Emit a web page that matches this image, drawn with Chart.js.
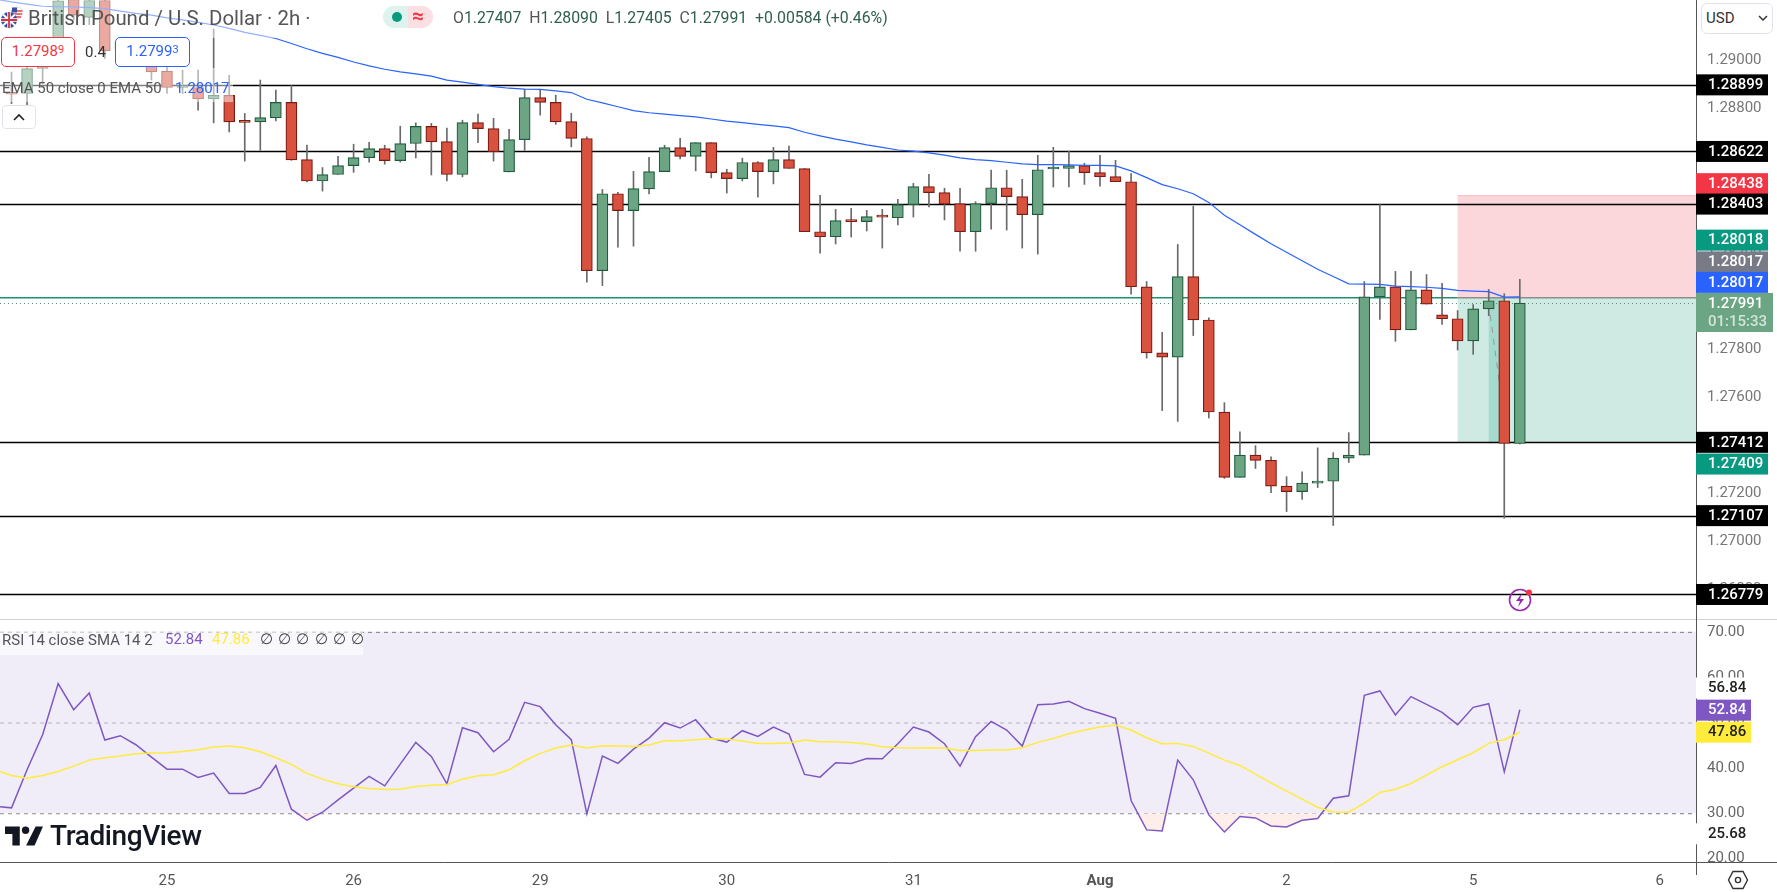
<!DOCTYPE html>
<html>
<head>
<meta charset="utf-8">
<title>GBP/USD</title>
<script src="https://cdn.jsdelivr.net/npm/chart.js@4/dist/chart.umd.min.js"></script>
<style>
  body { margin: 0; background: #fff; overflow: hidden; font-family: Roboto, sans-serif; }
  #wrap { position: relative; width: 1777px; height: 892px; }
  canvas { position: absolute; left: 0; top: 0; }
  .abs { position: absolute; white-space: nowrap; }
  .shade { position: absolute; background: rgba(255,255,255,.5); }
  .txt { font-size: 15px; line-height: 18px; color: #555; }
  .box { background: #fff; border-radius: 5px; box-sizing: border-box; font-size: 15px; text-align: center; line-height: 27px; }
  sup { font-size: 11px; vertical-align: 3px; line-height: 0; }
</style>
</head>
<body>
<div id="wrap">
  <canvas id="chart" width="1777" height="892"></canvas>

  <div class="shade" style="left:0;top:0;width:313px;height:38px"></div>
  <div class="shade" style="left:0;top:38px;width:195px;height:30px"></div>
  <div class="shade" style="left:0;top:68px;width:233px;height:34px"></div>

  <svg class="abs" style="left:0;top:5px" width="26" height="26" viewBox="0 0 26 26">
    <circle cx="17" cy="8" r="6" fill="#fff" stroke="#ddd"/>
    <path d="M11.5 6h11M12 9h10M13 12h8" stroke="#e0404a" stroke-width="1.4"/>
    <path d="M12 2.5h5v5h-5z" fill="#3a4fa0"/>
    <circle cx="9" cy="15" r="8" fill="#3a4fa0"/>
    <path d="M3 9.5l12 11M15 9.5l-12 11" stroke="#fff" stroke-width="2"/>
    <path d="M1 15h16M9 7v16" stroke="#fff" stroke-width="3.4"/>
    <path d="M1 15h16M9 7v16" stroke="#d8343f" stroke-width="1.8"/>
  </svg>
  <div class="abs" style="left:28px;top:6px;font-size:20.4px;line-height:24px;color:#555">British Pound / U.S. Dollar · 2h ·</div>

  <div class="abs" style="left:383px;top:6px;width:25px;height:22px;background:#dff3ee;border-radius:11px 0 0 11px"></div>
  <div class="abs" style="left:408px;top:6px;width:25px;height:22px;background:#fcdfe2;border-radius:0 11px 11px 0"></div>
  <div class="abs" style="left:392px;top:12px;width:10px;height:10px;background:#089981;border-radius:50%"></div>
  <div class="abs" style="left:412px;top:5px;font-size:21px;font-weight:700;line-height:22px;color:#f23645">≈</div>
  <div class="abs txt" style="left:453px;top:9px;font-size:15.8px;color:#2f5f4d"><span style="color:#555">O</span>1.27407 &nbsp;<span style="color:#555">H</span>1.28090 &nbsp;<span style="color:#555">L</span>1.27405 &nbsp;<span style="color:#555">C</span>1.27991 &nbsp;+0.00584 (+0.46%)</div>

  <div class="abs box" style="left:1px;top:37px;width:74px;height:30px;border:1.5px solid #f23645;color:#f23645">1.2798<sup>9</sup></div>
  <div class="abs txt" style="left:85px;top:43px;color:#333">0.4</div>
  <div class="abs box" style="left:115px;top:37px;width:75px;height:30px;border:1.5px solid #2962ff;color:#2962ff">1.2799<sup>3</sup></div>
  <div class="abs txt" style="left:2px;top:79px">EMA 50 close 0 EMA 50</div>
  <div class="abs txt" style="left:175px;top:79px;color:#2962ff">1.28017</div>
  <div class="abs" style="left:2px;top:105px;width:34px;height:24px;box-sizing:border-box;background:#fff;border:1px solid #e0e3eb;border-radius:4px"></div>
  <svg class="abs" style="left:12px;top:113px" width="14" height="9"><path d="M2 7l5-5 5 5" fill="none" stroke="#222" stroke-width="1.6"/></svg>

  <div class="abs" style="left:1701px;top:3px;width:72px;height:31px;box-sizing:border-box;background:#fff;border:1px solid #e0e3eb;border-radius:6px;font-size:15px;line-height:29px;padding-left:4px;color:#333">USD</div>
  <svg class="abs" style="left:1758px;top:15px" width="10" height="7"><path d="M1 1l4 4 4-4" fill="none" stroke="#333" stroke-width="1.5"/></svg>

  <div class="shade" style="left:0;top:632px;width:363px;height:23px;background:rgba(255,255,255,.6)"></div>
  <div class="abs txt" style="left:2px;top:631px">RSI 14 close SMA 14 2</div>
  <div class="abs txt" style="left:165px;top:630px;color:#7e57c2">52.84</div>
  <div class="abs txt" style="left:212px;top:630px;color:#ffeb3b">47.86</div>
  <div class="abs txt" style="left:260px;top:630px;color:#444;word-spacing:1.5px">∅ ∅ ∅ ∅ ∅ ∅</div>

  <svg class="abs" style="left:5px;top:826px" width="38" height="20" viewBox="0 0 36 18" fill="#131722">
    <path d="M0 0h14v18H7V7H0z"/><circle cx="19.5" cy="3.5" r="3.5"/><path d="M29 0h7l-8 18h-8z"/>
  </svg>
  <div class="abs" style="left:50px;top:820px;font-size:28px;line-height:32px;font-weight:500;letter-spacing:-.4px;color:#131722">TradingView</div>

  <svg class="abs" style="left:1508px;top:588px" width="26" height="24" viewBox="0 0 26 24">
    <circle cx="12" cy="12" r="10.5" fill="none" stroke="#9c27b0" stroke-width="1.6"/>
    <path d="M14 5l-6 8h4l-2 6 6-8h-4z" fill="#9c27b0"/>
    <circle cx="21" cy="4.5" r="3" fill="#f23645"/>
  </svg>

  <svg class="abs" style="left:1727px;top:869px" width="22" height="22" viewBox="0 0 22 22">
    <path d="M6 2.5h10L20.5 11 16 19.5H6L1.5 11z" fill="none" stroke="#333" stroke-width="1.4"/>
    <circle cx="11" cy="11" r="2.6" fill="none" stroke="#333" stroke-width="1.4"/>
  </svg>
</div>

<script>
const opens = [1.28866,1.28863,1.28967,1.29044,1.29255,1.29180,1.29250,1.29044,1.29071,1.28988,
  1.28956,1.28888,1.28888,1.28841,1.28855,1.28745,1.28745,1.28762,1.28826,1.28588,
  1.28499,1.28526,1.28563,1.28596,1.28634,1.28584,1.28655,1.28726,1.28663,1.28526,
  1.28742,1.28717,1.28537,1.28671,1.28846,1.28826,1.28746,1.28676,1.28126,1.28446,
  1.28376,1.28466,1.28538,1.28638,1.28601,1.28659,1.28534,1.28509,1.28576,1.28538,
  1.28588,1.28551,1.28288,1.28267,1.28334,1.28330,1.28351,1.28346,1.28401,1.28476,
  1.28451,1.28405,1.28288,1.28405,1.28471,1.28434,1.28359,1.28549,1.28551,1.28563,
  1.28534,1.28517,1.28496,1.28059,1.27784,1.27766,1.28101,1.27921,1.27538,1.27266,
  1.27359,1.27337,1.27230,1.27207,1.27242,1.27250,1.27346,1.27359,1.28017,1.28059,
  1.27880,1.28046,1.27942,1.27926,1.27834,1.27967,1.28001,1.27407]
const highs = [1.28952,1.28974,1.29071,1.29270,1.29270,1.29270,1.29270,1.29090,1.29092,1.29000,
  1.28974,1.28960,1.28960,1.29131,1.28939,1.28780,1.28919,1.28877,1.28896,1.28648,
  1.28555,1.28602,1.28652,1.28660,1.28648,1.28727,1.28741,1.28739,1.28719,1.28752,
  1.28777,1.28760,1.28714,1.28880,1.28880,1.28856,1.28781,1.28683,1.28464,1.28452,
  1.28539,1.28598,1.28648,1.28677,1.28659,1.28659,1.28548,1.28594,1.28580,1.28639,
  1.28644,1.28551,1.28439,1.28381,1.28385,1.28377,1.28381,1.28423,1.28489,1.28527,
  1.28469,1.28469,1.28413,1.28544,1.28544,1.28506,1.28606,1.28639,1.28623,1.28573,
  1.28606,1.28585,1.28530,1.28081,1.27870,1.28235,1.28394,1.27930,1.27577,1.27456,
  1.27398,1.27352,1.27269,1.27289,1.27389,1.27369,1.27452,1.28081,1.28401,1.28123,
  1.28123,1.28110,1.28073,1.27960,1.27985,1.28048,1.28030,1.28090]
const lows = [1.28821,1.28780,1.28905,1.29020,1.29169,1.29150,1.29009,1.29020,1.28980,1.28919,
  1.28863,1.28863,1.28794,1.28741,1.28703,1.28582,1.28627,1.28749,1.28585,1.28495,
  1.28457,1.28526,1.28535,1.28577,1.28569,1.28578,1.28595,1.28524,1.28499,1.28516,
  1.28658,1.28582,1.28537,1.28627,1.28773,1.28735,1.28641,1.28078,1.28064,1.28224,
  1.28228,1.28445,1.28538,1.28591,1.28541,1.28512,1.28449,1.28499,1.28432,1.28487,
  1.28551,1.28288,1.28199,1.28237,1.28266,1.28291,1.28220,1.28316,1.28349,1.28391,
  1.28337,1.28207,1.28207,1.28299,1.28295,1.28220,1.28195,1.28474,1.28474,1.28485,
  1.28478,1.28496,1.28028,1.27762,1.27544,1.27499,1.27856,1.27513,1.27262,1.27266,
  1.27303,1.27203,1.27124,1.27174,1.27224,1.27066,1.27328,1.27359,1.27923,1.27832,
  1.27880,1.27987,1.27902,1.27796,1.27778,1.27939,1.27096,1.27405]
const closes = [1.28860,1.28967,1.29044,1.29249,1.29189,1.29250,1.29041,1.29078,1.28988,1.28953,
  1.28888,1.28894,1.28841,1.28855,1.28745,1.28743,1.28763,1.28826,1.28587,1.28499,
  1.28526,1.28563,1.28596,1.28634,1.28584,1.28655,1.28726,1.28662,1.28526,1.28742,
  1.28717,1.28621,1.28671,1.28846,1.28826,1.28745,1.28676,1.28126,1.28446,1.28376,
  1.28467,1.28538,1.28638,1.28601,1.28659,1.28534,1.28509,1.28576,1.28538,1.28588,
  1.28551,1.28288,1.28267,1.28334,1.28330,1.28351,1.28349,1.28401,1.28476,1.28451,
  1.28403,1.28288,1.28405,1.28471,1.28434,1.28359,1.28546,1.28551,1.28563,1.28534,
  1.28517,1.28496,1.28059,1.27784,1.27766,1.28101,1.27921,1.27538,1.27266,1.27359,
  1.27337,1.27230,1.27207,1.27242,1.27250,1.27346,1.27359,1.28017,1.28059,1.27880,
  1.28046,1.27987,1.27926,1.27834,1.27967,1.28001,1.27407,1.27991]
const ema50 = [1.29244,1.29235,1.29226,1.29224,1.29223,1.29220,1.29216,1.29206,1.29196,1.29189,
  1.29178,1.29169,1.29159,1.29148,1.29134,1.29117,1.29105,1.29092,1.29071,1.29049,
  1.29030,1.29013,1.28994,1.28978,1.28964,1.28953,1.28945,1.28935,1.28919,1.28910,
  1.28901,1.28892,1.28885,1.28881,1.28880,1.28874,1.28867,1.28839,1.28824,1.28808,
  1.28792,1.28783,1.28777,1.28771,1.28766,1.28757,1.28748,1.28742,1.28735,1.28728,
  1.28721,1.28702,1.28687,1.28673,1.28662,1.28649,1.28639,1.28628,1.28623,1.28616,
  1.28607,1.28595,1.28588,1.28584,1.28577,1.28570,1.28567,1.28567,1.28566,1.28564,
  1.28564,1.28562,1.28541,1.28513,1.28484,1.28467,1.28446,1.28410,1.28357,1.28317,
  1.28277,1.28238,1.28203,1.28167,1.28132,1.28102,1.28071,1.28070,1.28069,1.28062,
  1.28060,1.28057,1.28052,1.28044,1.28041,1.28039,1.28016,1.28017]
const rsi = [31.18,39.58,47.31,58.58,52.84,56.52,46.13,47.09,45.10,42.38,
  39.72,39.72,37.88,38.84,34.35,34.35,35.67,40.53,30.88,28.45,
  30.22,32.95,35.52,38.10,36.04,40.83,45.62,42.52,36.48,48.86,
  47.75,43.55,46.28,54.46,53.50,49.52,46.21,29.85,42.60,40.98,
  44.14,46.57,49.96,48.78,50.63,46.57,45.69,48.20,46.94,49.01,
  47.46,38.55,37.96,41.12,40.98,42.08,42.01,45.32,49.01,47.90,
  45.32,40.39,46.87,50.26,48.34,44.81,53.94,54.09,54.68,53.06,
  52.03,50.92,32.80,26.32,26.10,41.71,37.37,29.63,25.87,29.26,
  28.97,27.20,26.98,28.45,28.82,33.31,33.83,56.00,56.96,51.66,
  55.71,54.01,52.25,49.52,53.35,54.16,39.13,52.84]
const rsiSma = [38.32,37.73,38.32,39.21,40.39,41.71,42.23,42.60,43.11,43.26,
  43.33,43.63,44.00,44.59,44.81,44.44,43.55,42.23,40.76,38.77,
  37.51,36.48,35.82,35.45,35.23,35.30,35.89,36.19,36.34,37.51,
  38.25,38.47,39.58,41.57,43.19,44.36,45.03,44.36,44.88,44.81,
  44.73,45.03,45.99,45.99,46.21,46.43,46.35,45.91,45.40,45.40,
  45.47,46.13,45.76,45.76,45.62,45.25,44.66,44.44,44.36,44.44,
  44.36,43.85,43.85,43.92,43.92,44.44,45.62,46.50,47.53,48.34,
  49.01,49.45,48.34,46.65,45.32,45.40,44.73,43.26,41.71,40.53,
  38.62,36.70,34.86,33.09,31.33,30.29,30.22,32.21,34.57,35.30,
  36.56,38.40,40.24,41.79,43.33,45.40,46.21,47.86]

// the bar just left of the visible range, only its indicator lines show
const ema50Before = 1.29255
const rsiBefore = 31.5
const rsiSmaBefore = 39.5

const dayBars = [10, 22, 34, 46, 58, 70, 82, 94, 106]
const dayLabels = ['25', '26', '29', '30', '31', 'Aug', '2', '5', '6']
const priceTicks = [1.29, 1.288, 1.286, 1.284, 1.282, 1.28, 1.278, 1.276, 1.274, 1.272, 1.27, 1.268]
const rsiTicks = [70, 60, 50, 40, 30, 20]

const levels = [1.28899, 1.28622, 1.28403, 1.27412, 1.27107, 1.26779]
const positionEntry = 1.28013
const positionStop = 1.28438
const positionTarget = 1.27409
const positionStartBar = 93
const lastPrice = 1.27991

// value, text, background, text colour, nudge up/down so that the tags do not overlap
const priceTags = [
  [1.28899, '1.28899', '#000', '#fff', 0],
  [1.28622, '1.28622', '#000', '#fff', 0],
  [1.28438, '1.28438', '#f23645', '#fff', -12],
  [1.28403, '1.28403', '#000', '#fff', 0],
  [1.28018, '1.28018', '#089981', '#fff', -56.5],
  [1.28017, '1.28017', '#787b86', '#fff', -35],
  [1.28017, '1.28017', '#2962ff', '#fff', -14.5],
  [1.27412, '1.27412', '#000', '#fff', 0],
  [1.27409, '1.27409', '#089981', '#fff', 21],
  [1.27107, '1.27107', '#000', '#fff', 0],
  [1.26779, '1.26779', '#000', '#fff', 0]
]
const rsiTags = [
  [56.84, '56.84', '#fff', '#222', -3.5],
  [52.84, '52.84', '#7e57c2', '#fff', 0.5],
  [47.86, '47.86', '#ffeb3b', '#222', 0],
  [25.68, '25.68', '#fff', '#222', 1]
]

const RED = '#d9523f'
const RED_BORDER = '#7a1c14'
const GREEN = '#6ba583'
const GREEN_BORDER = '#1f5c3e'
const AXIS_X = 1696
const TAG_FONT = '500 15px Roboto'

const isUp = i => closes[i] >= opens[i]
const hLine = (ctx, y, x0, x1, color, width, dash) => {
  ctx.save()
  ctx.strokeStyle = color
  ctx.lineWidth = width
  ctx.setLineDash(dash || [])
  ctx.beginPath()
  ctx.moveTo(x0, y)
  ctx.lineTo(x1, y)
  ctx.stroke()
  ctx.restore()
}

const backdrop = {
  id: 'backdrop',
  beforeDatasetsDraw(chart) {
    const { ctx, scales: { x, y, rsiAxis } } = chart
    const y70 = rsiAxis.getPixelForValue(70)
    const y50 = rsiAxis.getPixelForValue(50)
    const y30 = rsiAxis.getPixelForValue(30)

    // rsi band
    ctx.fillStyle = '#f0edf8'
    ctx.fillRect(0, y70, AXIS_X, y30 - y70)
    hLine(ctx, y70 + 0.5, 0, AXIS_X, '#787b86', 1, [4, 4])
    hLine(ctx, y50 + 0.5, 0, AXIS_X, '#b6b2c4', 1, [4, 4])
    hLine(ctx, y30 + 0.5, 0, AXIS_X, '#787b86', 1, [4, 4])

    // short position box
    const px = x.getPixelForValue(positionStartBar)
    const yEntry = y.getPixelForValue(positionEntry)
    const yStop = y.getPixelForValue(positionStop)
    const yTarget = y.getPixelForValue(positionTarget)
    ctx.fillStyle = '#fbd7db'
    ctx.fillRect(px, yStop, AXIS_X - px, yEntry - yStop)
    ctx.fillStyle = '#cfe9e3'
    ctx.fillRect(px, yEntry, AXIS_X - px, yTarget - yEntry)
    hLine(ctx, yStop, px, AXIS_X, '#fbb8be', 1)
    ctx.fillStyle = '#a5dacf'
    const x95 = x.getPixelForValue(95)
    ctx.fillRect(x95, yEntry, x.getPixelForValue(96) + 1 - x95, yTarget - yEntry)

    // price levels
    levels.forEach(v => hLine(ctx, Math.round(y.getPixelForValue(v)) + 0.5, 0, AXIS_X, '#000', 1.5))
    hLine(ctx, yEntry, 0, px, '#1e8f6f', 1.5)
    hLine(ctx, yEntry, px, AXIS_X, '#8a8f8c', 1.5)
    hLine(ctx, Math.round(y.getPixelForValue(lastPrice)) + 0.5, 0, AXIS_X, '#5f8f79', 1, [1, 3])

    // trade path
    ctx.save()
    ctx.strokeStyle = '#999'
    ctx.setLineDash([6, 6])
    ctx.beginPath()
    ctx.moveTo(x95, y.getPixelForValue(lastPrice))
    ctx.lineTo(x.getPixelForValue(96.2), yTarget)
    ctx.stroke()
    ctx.restore()
  }
}

const drawTag = (ctx, scale, tag, right) => {
  const [value, text, bg, color, nudge] = tag
  const yc = scale.getPixelForValue(value) + nudge
  ctx.fillStyle = bg
  ctx.fillRect(AXIS_X, yc - 10.5, right - AXIS_X, 21)
  ctx.fillStyle = color
  ctx.font = TAG_FONT
  ctx.textAlign = 'left'
  ctx.textBaseline = 'middle'
  ctx.fillText(text, AXIS_X + 12, yc + 0.5)
}

const axisTags = {
  id: 'axisTags',
  afterDraw(chart) {
    const { ctx, scales: { y, rsiAxis } } = chart
    hLine(ctx, 619.5, 0, 1777, '#d1d4dc', 1)
    hLine(ctx, 862.5, 0, 1777, '#555', 1)
    ctx.fillStyle = '#555'
    ctx.fillRect(AXIS_X, 0, 1, 875)
    priceTags.forEach(t => drawTag(ctx, y, t, 1768))
    rsiTags.forEach(t => drawTag(ctx, rsiAxis, t, 1751))

    // last price tag with countdown
    ctx.fillStyle = GREEN
    ctx.fillRect(AXIS_X, 293, 77, 39)
    ctx.font = TAG_FONT
    ctx.fillStyle = '#fff'
    ctx.fillText('1.27991', AXIS_X + 12, 304)
    ctx.fillStyle = 'rgba(255,255,255,.7)'
    ctx.fillText('01:15:33', AXIS_X + 12, 322)
  }
}

// no room for half a label at the ends of the axes, the panes fill the canvas
const noPadding = s => {
  s.paddingTop = 0
  s.paddingBottom = 0
  s.paddingLeft = 0
  s.paddingRight = 0
}

const indices = closes.map((_, i) => i)
const lineData = (before, values) => [{ x: -1, y: before }, ...indices.map(i => ({ x: i, y: values[i] }))]

new Chart(document.getElementById('chart'), {
  type: 'bar',
  data: {
    datasets: [
      {
        label: 'Wicks',
        order: 4,
        yAxisID: 'y',
        barThickness: 1,
        grouped: false,
        backgroundColor: '#6a6a6a',
        data: indices.map(i => ({ x: i, y: [lows[i], highs[i]] }))
      },
      {
        label: 'Bodies',
        order: 3,
        yAxisID: 'y',
        barThickness: 11,
        grouped: false,
        minBarLength: 2,
        borderWidth: 1.2,
        borderSkipped: false,
        backgroundColor: indices.map(i => isUp(i) ? GREEN : RED),
        borderColor: indices.map(i => isUp(i) ? GREEN_BORDER : RED_BORDER),
        data: indices.map(i => ({ x: i, y: [opens[i], closes[i]] }))
      },
      {
        type: 'line',
        label: 'EMA 50',
        order: 1,
        yAxisID: 'y',
        borderColor: '#2962ff',
        borderWidth: 1.2,
        pointRadius: 0,
        data: lineData(ema50Before, ema50)
      },
      {
        type: 'line',
        label: 'RSI',
        order: 2,
        yAxisID: 'rsiAxis',
        borderColor: '#7e57c2',
        borderWidth: 1.5,
        pointRadius: 0,
        fill: { target: { value: 30 }, above: 'transparent', below: '#fdeee9' },
        data: lineData(rsiBefore, rsi)
      },
      {
        type: 'line',
        label: 'RSI SMA',
        order: 1,
        yAxisID: 'rsiAxis',
        borderColor: '#ffeb3b',
        borderWidth: 1.5,
        pointRadius: 0,
        data: lineData(rsiSmaBefore, rsiSma)
      }
    ]
  },
  options: {
    responsive: false,
    animation: false,
    devicePixelRatio: 1,
    layout: { padding: 0 },
    plugins: { legend: { display: false }, tooltip: { enabled: false } },
    scales: {
      x: {
        type: 'linear',
        offset: false,
        min: -0.74,
        max: 108.33,
        grid: { display: false },
        border: { display: false },
        afterFit: s => { s.height = 30; noPadding(s) },
        afterBuildTicks: s => { s.ticks = dayBars.map(value => ({ value })) },
        ticks: {
          autoSkip: false,
          maxRotation: 0,
          padding: 2,
          color: '#555',
          font: c => ({ family: 'Roboto', size: 15, weight: c.tick && dayLabels[dayBars.indexOf(c.tick.value)] === 'Aug' ? 'bold' : 'normal' }),
          callback: v => dayLabels[dayBars.indexOf(v)]
        }
      },
      y: {
        position: 'right',
        stack: 'panes',
        stackWeight: 619,
        min: 1.26677,
        max: 1.29252,
        grid: { display: false },
        border: { display: false },
        afterFit: s => { s.width = 81; noPadding(s) },
        afterBuildTicks: s => { s.ticks = priceTicks.map(value => ({ value })) },
        ticks: {
          autoSkip: false,
          padding: 3,
          crossAlign: 'near',
          color: '#777',
          font: { family: 'Roboto', size: 15 },
          callback: v => v.toFixed(5)
        }
      },
      rsiAxis: {
        position: 'right',
        stack: 'panes',
        stackWeight: 243,
        min: 19.24,
        max: 72.83,
        grid: { display: false },
        border: { display: false },
        afterFit: s => { s.width = 81; noPadding(s) },
        afterBuildTicks: s => { s.ticks = rsiTicks.map(value => ({ value })) },
        ticks: {
          autoSkip: false,
          padding: 3,
          crossAlign: 'near',
          color: '#666',
          font: { family: 'Roboto', size: 15 },
          callback: v => v.toFixed(2)
        }
      }
    }
  },
  plugins: [backdrop, axisTags]
})
</script>
</body>
</html>
